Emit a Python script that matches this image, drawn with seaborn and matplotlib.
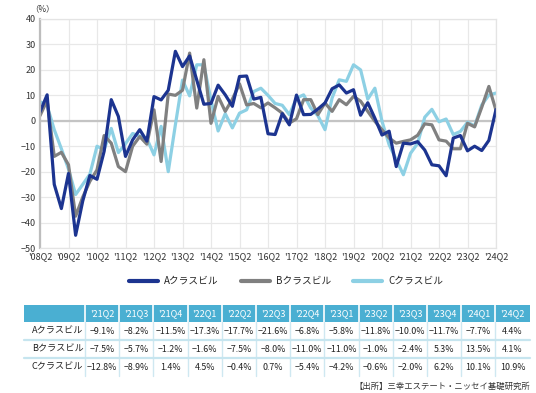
import numpy as np
import pandas as pd
import matplotlib
matplotlib.use("Agg")
import matplotlib.pyplot as plt
from matplotlib.patches import Rectangle
from matplotlib.lines import Line2D
import seaborn as sns

# quarterly vacancy-rate change, '08Q2 .. '24Q2 (65 quarters)
quarters = [f"'{y % 100:02d}Q{q}" for y in range(2008, 2025) for q in range(1, 5)][1:66]

a_class = [3.5, 10.2, -25.0, -34.5, -20.7, -45.0, -31.5, -21.5, -23.0, -12.0,
           8.3, 1.7, -14.0, -7.5, -3.5, -8.0, 9.5, 8.2, 12.0, 27.3,
           21.3, 25.5, 16.0, 6.5, 6.8, 14.0, 10.2, 5.7, 17.4, 17.6,
           8.5, 9.2, -5.1, -5.4, 2.8, -1.6, 10.1, 2.4, 2.5, 4.6,
           7.0, 12.6, 14.1, 10.9, 12.2, 2.2, 7.1, 1.0, -5.6, -4.1,
           -18.0, -8.8, -9.1, -8.2, -11.5, -17.3, -17.7, -21.6, -6.8, -5.8,
           -11.8, -10.0, -11.7, -7.7, 4.4]
b_class = [2.0, 8.0, -14.0, -12.4, -17.3, -37.5, -30.0, -23.8, -19.3, -5.8,
           -8.8, -18.0, -20.0, -10.0, -6.2, -9.2, 4.3, -16.0, 10.5, 10.0,
           12.0, 26.6, 5.0, 24.0, -1.0, 9.6, 3.7, 8.5, 14.5, 6.2,
           6.8, 5.1, 7.0, 5.1, 3.0, -0.9, 0.8, 8.3, 8.3, 2.4,
           7.0, 3.7, 8.3, 6.3, 9.6, 7.7, 3.7, -0.2, -3.5, -6.8,
           -8.8, -8.1, -7.5, -5.7, -1.2, -1.6, -7.5, -8.0, -11.0, -11.0,
           -1.0, -2.4, 5.3, 13.5, 4.1]
c_class = [7.5, 6.0, -3.5, -11.0, -19.0, -29.0, -25.0, -21.0, -10.0, -11.4,
           -3.0, -12.5, -9.0, -5.0, -6.0, -7.0, -13.4, -2.2, -20.0, -1.6,
           16.0, 9.8, 22.0, 22.0, 8.0, -4.0, 2.8, -2.8, 3.0, 4.3,
           11.5, 12.8, 10.0, 6.8, 6.1, 2.4, 8.9, 10.2, 5.0, 2.0,
           -3.5, 9.0, 16.1, 15.5, 22.0, 20.0, 8.5, 12.8, -0.2, -9.4,
           -15.3, -21.2, -12.8, -8.9, 1.4, 4.5, -0.4, 0.7, -5.4, -4.2,
           -0.6, -2.0, 6.2, 10.1, 10.9]

names = ["Aクラスビル", "Bクラスビル", "Cクラスビル"]
colors = {"Aクラスビル": "#1c3490", "Bクラスビル": "#808080", "Cクラスビル": "#8dd0e4"}
source = "【出所】三幸エステート・ニッセイ基礎研究所"

df = pd.DataFrame({"q": np.arange(len(quarters)),
                   "Aクラスビル": a_class, "Bクラスビル": b_class, "Cクラスビル": c_class})
long = df.melt(id_vars="q", var_name="cls", value_name="v")

sns.set_style("white")
plt.rcParams["font.family"] = ["Noto Sans CJK JP", "DejaVu Sans"]
plt.rcParams["axes.unicode_minus"] = True

W, H = 536, 393
fig = plt.figure(figsize=(W / 100, H / 100), dpi=100)
ax = fig.add_axes([40 / W, 1 - 248 / H, 456 / W, 229 / H])

for n in ["Cクラスビル", "Bクラスビル", "Aクラスビル"]:
    sns.lineplot(data=long[long["cls"] == n], x="q", y="v", color=colors[n],
                 lw=2.3, ax=ax, legend=False)

ax.set_xlim(0, len(quarters) - 1)
ax.set_ylim(-50, 40)
ax.set_yticks(np.arange(-50, 41, 10))
ax.set_yticklabels([f"{t}".replace("-", "\u2212") for t in range(-50, 41, 10)])
xt = np.arange(0, len(quarters), 4)
ax.set_xticks(xt)
ax.set_xticklabels([quarters[i] for i in xt])
ax.tick_params(length=0, labelsize=6.5, colors="#333333", pad=3)
ax.set_xlabel("")
ax.set_ylabel("")
ax.grid(True, color="#e8e8e8", lw=0.9)
ax.axhline(0, color="#c4c4c4", lw=1.6, zorder=1)
for s in ["top", "right", "bottom"]:
    ax.spines[s].set_color("#e4e4e4")
    ax.spines[s].set_linewidth(0.9)
ax.spines["left"].set_color("#bdbdbd")
ax.spines["left"].set_linewidth(1.6)
fig.text(30 / W, 1 - 9 / H, "（%）", fontsize=6, color="#333333", va="center", ha="left")

handles = [Line2D([], [], color=colors[n], lw=3) for n in names]
fig.legend(handles, names, loc="center", bbox_to_anchor=(286 / W, 1 - 281 / H), ncol=3,
           frameon=False, fontsize=7, handlelength=3.0, columnspacing=2.3, handletextpad=0.6)

# table of the last 13 quarters
tq = quarters[-13:]
rows = [a_class[-13:], b_class[-13:], c_class[-13:]]
tab = fig.add_axes([0, 0, 1, 1])
tab.set_xlim(0, W)
tab.set_ylim(H, 0)
tab.axis("off")
x0, lab_w, col_w = 24, 61, 34.2
y0, head_h, row_h = 305, 17, 18
hdr = "#4aafd2"
tab.add_patch(Rectangle((x0, y0), lab_w + col_w * 13, head_h, color=hdr, lw=0))
for j, q in enumerate(tq):
    cx = x0 + lab_w + col_w * j
    tab.plot([cx, cx], [y0, y0 + head_h], color="white", lw=1.2)
    tab.plot([cx, cx], [y0 + head_h, y0 + head_h + 3 * row_h], color="#cfe8f1", lw=1)
    tab.text(cx + col_w / 2, y0 + head_h / 2, q, color="white", fontsize=6.5,
             ha="center", va="center")
for i, (n, vals) in enumerate(zip(names, rows)):
    cy = y0 + head_h + row_h * i
    if i > 0:
        tab.plot([x0, x0 + lab_w + col_w * 13], [cy, cy], color="#c6e5ef", lw=1.6)
    tab.text(x0 + 8, cy + row_h / 2, n, fontsize=6.6, ha="left", va="center", color="#222222")
    for j, v in enumerate(vals):
        cx = x0 + lab_w + col_w * j + col_w / 2
        tab.text(cx, cy + row_h / 2, f"{v:.1f}%".replace("-", "\u2212"), fontsize=6.4,
                 ha="center", va="center", color="#222222")
tab.text(530, 386, source, fontsize=6, ha="right", va="center", color="#333333")

fig.savefig("out.png", dpi=100)
